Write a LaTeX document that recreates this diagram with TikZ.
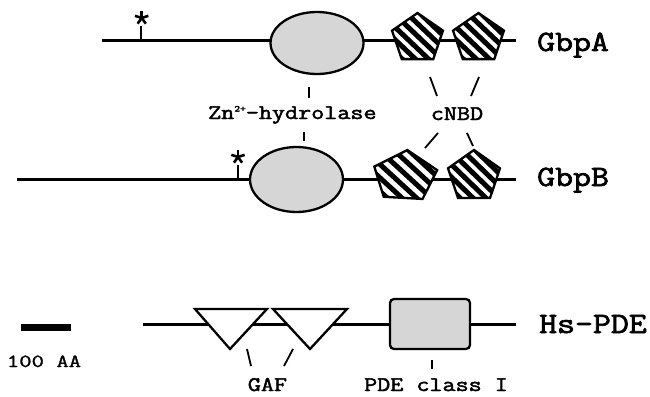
\documentclass[tikz,border=0pt]{standalone}
\usepackage{graphicx}
\usepackage{fontspec}
\newfontfamily\courbig[FakeBold=2.2]{Latin Modern Mono}
\newfontfamily\courmid[FakeBold=2]{Latin Modern Mono}
\newfontfamily\courreg[FakeBold=1.2]{Latin Modern Mono}
\usetikzlibrary{shapes.geometric}
\definecolor{dom}{RGB}{214,214,214}
\newcommand{\bigtxt}[1]{\scalebox{1.18}[1]{#1}}
\newcommand{\smalltxt}[1]{\scalebox{1.22}[1]{#1}}
\tikzset{
  backbone/.style={line width=3pt},
  tickline/.style={line width=1.8pt},
  dombox/.style={draw, line width=2.3pt, fill=dom, inner sep=0pt},
  cnbd/.style={regular polygon, regular polygon sides=5, draw, line width=2.3pt, fill=white, inner sep=0pt,
    path picture={\foreach \k in {-7,...,7} {\draw[line width=5pt] ([xshift=\k*12.5pt]path picture bounding box.center) ++(-50pt,50pt) -- ++(100pt,-100pt);}}},
  gaf/.style={draw, line width=2.3pt, fill=white},
  biglabel/.style={font=\courbig\fontsize{29.5}{30}\selectfont, inner sep=0pt, anchor=base west},
  smalllabel/.style={font=\courmid\fontsize{20.8}{22}\selectfont, inner sep=0pt, anchor=base},
  starline/.style={line width=2.6pt}
}
\newcommand{\astar}[1]{\foreach \a in {90,162,234,306,18} {\draw[starline] (#1) -- ++(\a:7pt);}}
\begin{document}
\begin{tikzpicture}[x=1pt,y=-1pt]
\useasboundingbox (0,0) rectangle (650,396);
% ---------- GbpA ----------
\coordinate (a0) at (102,41);
\coordinate (a1) at (516,41);
\draw[backbone] (a0) -- (a1);
\coordinate (aS) at (141,41);
\coordinate (aSt) at (141,26);
\draw[tickline] (aS) -- (aSt);
\coordinate (aStar) at (141.7,18);
\astar{aStar}
\node[dombox, ellipse, minimum width=93pt, minimum height=62pt] (hA) at (317,43) {};
\node[cnbd, minimum size=51pt, xscale=1.05] (pA1) at (417.5,38.5) {};
\node[cnbd, minimum size=51pt, xscale=1.05] (pA2) at (478.5,38.5) {};
\node[biglabel] (lA) at (537,51) {\bigtxt{GbpA}};
% ---------- labels between ----------
\node[smalllabel, anchor=base west] (zn) at (208,119) {\smalltxt{Zn\raisebox{7.5pt}{\fontsize{9}{9}\selectfont 2+}-hydrolase}};
\coordinate (zt1) at (309,87); \coordinate (zt2) at (309,98);
\draw[tickline] (zt1) -- (zt2);
\coordinate (zb1) at (304,132); \coordinate (zb2) at (304,141);
\draw[tickline] (zb1) -- (zb2);
\node[smalllabel] (cn) at (457,120) {\smalltxt{cNBD}};
\coordinate (c1a) at (430,77); \coordinate (c1b) at (437,96);
\coordinate (c2a) at (479,77); \coordinate (c2b) at (471,96);
\coordinate (c3a) at (438,133); \coordinate (c3b) at (425,148);
\coordinate (c4a) at (467,133); \coordinate (c4b) at (473,146);
\draw[tickline] (c1a) -- (c1b);
\draw[tickline] (c2a) -- (c2b);
\draw[tickline] (c3a) -- (c3b);
\draw[tickline] (c4a) -- (c4b);
% ---------- GbpB ----------
\coordinate (b0) at (17,179);
\coordinate (b1) at (516,179);
\draw[backbone] (b0) -- (b1);
\coordinate (bS) at (238,179);
\coordinate (bSt) at (238,165);
\draw[tickline] (bS) -- (bSt);
\coordinate (bStar) at (238,157);
\astar{bStar}
\node[dombox, ellipse, minimum width=93pt, minimum height=65pt] (hB) at (296.5,179.5) {};
\node[cnbd, minimum size=53pt, xscale=1.25, rotate=-4] (pB1) at (405,176.5) {};
\node[cnbd, minimum size=53pt, xscale=1.03] (pB2) at (474,176.5) {};
\node[biglabel] (lB) at (537,186) {\bigtxt{GbpB}};
% ---------- Hs-PDE ----------
\coordinate (h0) at (143,324);
\coordinate (h1) at (516,324);
\draw[backbone] (h0) -- (h1);
\coordinate (g1l) at (195,309); \coordinate (g1r) at (267,309); \coordinate (g1b) at (230,349);
\coordinate (g2l) at (273,309); \coordinate (g2r) at (347,309); \coordinate (g2b) at (310,349);
\draw[gaf, line join=miter] (g1l) -- (g1r) -- (g1b) -- cycle;
\draw[gaf, line join=miter] (g2l) -- (g2r) -- (g2b) -- cycle;
\node[dombox, rectangle, rounded corners=4pt, minimum width=80pt, minimum height=50pt] (pde) at (430,324) {};
\node[biglabel] (lH) at (539,333) {\bigtxt{Hs-PDE}};
\node[smalllabel] (gafl) at (267.5,391) {\smalltxt{GAF}};
\coordinate (ga1) at (247,349); \coordinate (ga2) at (251,366);
\coordinate (gb1) at (293,349); \coordinate (gb2) at (284,366);
\draw[tickline] (ga1) -- (ga2);
\draw[tickline] (gb1) -- (gb2);
\node[smalllabel] (pdel) at (436,391) {\smalltxt{PDE class I}};
\coordinate (pt1) at (432,360); \coordinate (pt2) at (432,369);
\draw[tickline] (pt1) -- (pt2);
% ---------- scale bar ----------
\coordinate (s0) at (21,327); \coordinate (s1) at (71,327);
\draw[line width=7pt] (s0) -- (s1);
\node[font=\courreg\fontsize{18.5}{20}\selectfont, inner sep=0pt, anchor=base] (sl) at (44,367) {\scalebox{1.3}[1]{100 AA}};
\end{tikzpicture}
\end{document}
